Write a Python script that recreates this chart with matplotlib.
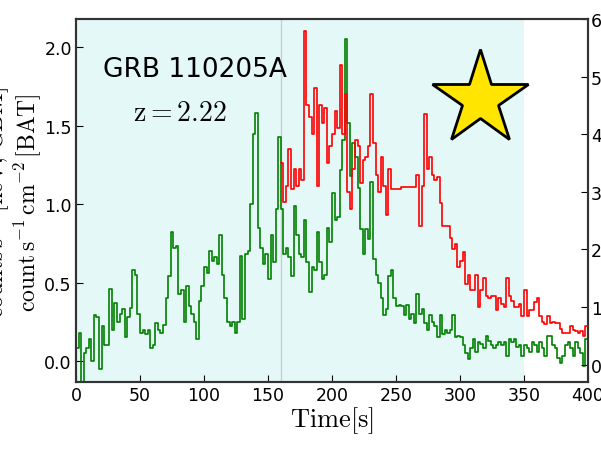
import numpy as np
import matplotlib
matplotlib.use('Agg')
import matplotlib.pyplot as plt

plt.rcParams['mathtext.fontset'] = 'cm'

# BAT light curve (green), 2 s bins starting at 0 s
bat_t = np.arange(0, 400, 2)
bat = [0.08, 0.18, -0.18, 0.05, 0.08, 0.14, 0.0, 0.29, 0.28, -0.05,
       0.22, 0.1, 0.1, 0.46, 0.2, 0.37, 0.25, 0.3, 0.33, 0.15,
       0.28, 0.34, 0.58, 0.55, 0.3, 0.18, 0.2, 0.17, 0.2, 0.08,
       0.1, 0.24, 0.2, 0.18, 0.23, 0.4, 0.54, 0.82, 0.72, 0.73,
       0.43, 0.45, 0.25, 0.48, 0.35, 0.3, 0.25, 0.14, 0.38, 0.48,
       0.6, 0.56, 0.7, 0.64, 0.66, 0.62, 0.8, 0.55, 0.4, 0.25,
       0.22, 0.25, 0.18, 0.25, 0.67, 0.27, 0.68, 0.7, 1.0, 1.45,
       1.58, 0.85, 0.72, 0.62, 0.68, 0.52, 0.8, 0.63, 0.97, 1.43,
       0.97, 0.68, 0.72, 0.66, 0.54, 0.99, 0.8, 0.68, 0.66, 0.9,
       0.63, 0.44, 0.6, 0.58, 0.82, 0.63, 0.52, 0.55, 0.85, 0.76,
       1.07, 0.9, 0.92, 1.22, 1.41, 2.05, 1.52, 1.18, 1.39, 1.3,
       1.1, 0.84, 0.68, 0.84, 0.78, 1.14, 0.65, 0.55, 0.5, 0.4,
       0.29, 0.33, 0.54, 0.58, 0.4, 0.35, 0.36, 0.35, 0.29, 0.36,
       0.27, 0.3, 0.24, 0.43, 0.3, 0.33, 0.24, 0.2, 0.29, 0.25,
       0.22, 0.15, 0.29, 0.17, 0.2, 0.18, 0.2, 0.29, 0.15, 0.16,
       0.15, 0.1, 0.05, 0.01, 0.08, 0.14, 0.06, 0.12, 0.11, 0.08,
       0.16, 0.13, 0.1, 0.08, 0.1, 0.12, 0.1, 0.12, 0.03, 0.14,
       0.12, 0.14, 0.09, 0.1, 0.03, 0.1, 0.08, 0.06, 0.12, 0.1,
       0.06, 0.12, 0.08, 0.03, 0.16, 0.16, 0.1, 0.08, 0.02, -0.01,
       0.03, 0.1, 0.12, 0.08, 0.03, 0.12, 0.08, 0.05, -0.03, 0.14]

# GBM light curve (red), bin starts in s (data gap 246-266)
gbm_t = np.concatenate([np.arange(160, 246, 2), [246, 254], np.arange(266, 400, 2)])
gbm = [3.5, 2.82, 3.1, 3.75, 3.05, 3.4, 3.1, 3.4, 3.2, 5.8,
       4.5, 4.3, 4.0, 4.8, 3.1, 4.5, 4.2, 4.45, 3.5, 3.8,
       4.0, 4.4, 4.1, 5.2, 4.0, 4.7, 3.0, 2.7, 3.4, 3.9,
       3.8, 3.15, 3.55, 3.6, 3.8, 4.7, 3.85, 3.3, 3.0, 3.6,
       3.1, 2.6, 3.4,
       3.05, 3.08,
       3.3, 2.4, 3.1, 4.35, 3.4, 3.6, 3.3, 3.2, 3.25, 2.8,
       2.4, 2.4, 2.4, 2.2, 2.0, 2.1, 1.7, 1.8, 1.95, 1.4,
       1.55, 1.3, 1.3, 1.55, 1.0, 1.3, 1.5, 1.2, 1.15, 1.2,
       1.2, 0.95, 1.15, 1.05, 1.0, 1.5, 1.2, 1.1, 1.0, 1.0,
       1.05, 0.85, 1.3, 0.85, 0.95, 0.95, 1.08, 1.15, 0.85, 0.75,
       0.7, 0.85, 0.73, 0.75, 0.72, 0.72, 0.62, 0.55, 0.55, 0.55,
       0.67, 0.6, 0.58, 0.55, 0.58, 0.5, 0.67]

t_end = 400
star_t, star_y = 315.6, 1.67

fig = plt.figure(figsize=(6.01, 4.52), dpi=100)
ax = fig.add_axes([76/601, 69/452, 512/601, 363/452])

ax.axvspan(0, 350, color='c', alpha=0.1, lw=0, zorder=0)
ax.axvline(160, color='0.8', lw=1, zorder=1)

ax.step(np.append(bat_t, t_end), np.append(bat, bat[-1]), where='post',
        color=(0, 0.5, 0), lw=1.2, zorder=2)

ax.plot(star_t, star_y, marker='*', markersize=72, markerfacecolor='#ffe500',
        markeredgecolor='k', markeredgewidth=2, zorder=5)

ax.text(0.053, 0.862, 'GRB 110205A', transform=ax.transAxes, fontsize=19,
        va='center', ha='left')
ax.text(0.111, 0.744, r'$\mathrm{z=2.22}$', transform=ax.transAxes,
        fontsize=20, va='center', ha='left')

ax.set_xlim(0, 400)
ax.set_ylim(-0.134, 2.18)
ax.set_yticks([0.0, 0.5, 1.0, 1.5, 2.0])
ax.set_xticks(range(0, 401, 50))
ax.set_xlabel(r'$\mathrm{Time[s]}$', fontsize=19, labelpad=0)
ax.tick_params(direction='in', length=5, labelsize=12.5, pad=3)

ax2 = ax.twinx()
ax2.step(np.append(gbm_t, t_end), np.append(gbm, gbm[-1]), where='post',
         color='r', lw=1.2, zorder=3)
ax2.set_ylim(-0.3, 6.0)
ax2.set_yticks(range(0, 7))
ax2.tick_params(direction='in', length=5, labelsize=12.5, pad=2)

for a in (ax, ax2):
    for s in a.spines.values():
        s.set_color('#333333')
        s.set_linewidth(1.5)

# y labels (the outer one is mostly cut at the figure edge, as in the original)
fig.text(-4/601, 1 - 203/452, r'$\mathrm{counts\,s^{-1}\,[keV,\,GBM]}$',
         rotation=90, fontsize=17, ha='center', va='center')
fig.text(28/601, 1 - 203/452, r'$\mathrm{count\,s^{-1}\,cm^{-2}\,[BAT]}$',
         rotation=90, fontsize=17, ha='center', va='center')

fig.savefig('out.png', dpi=100)
